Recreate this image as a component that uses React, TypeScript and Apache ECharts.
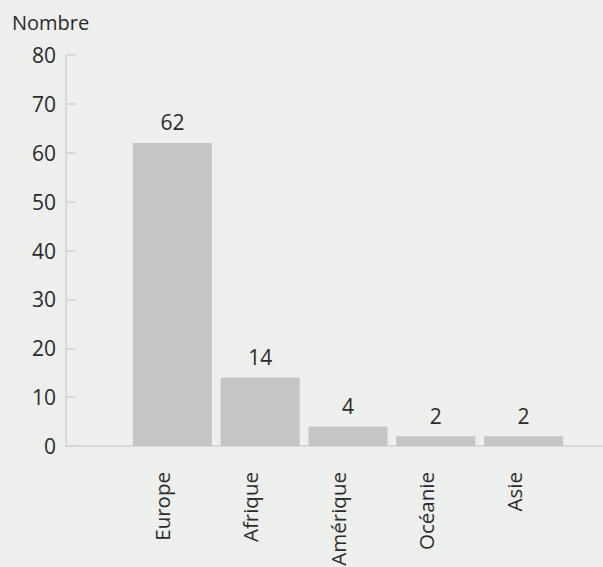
import React, { useEffect, useRef } from "react";
import * as echarts from "echarts";

const categories = ["Europe", "Afrique", "Amérique", "Océanie", "Asie"];
const values = [62, 14, 4, 2, 2];
const yMin = 0;
const yMax = 80;
const yInterval = 10;
const yName = "Nombre";

const FONT = "'Open Sans', 'Noto Sans', sans-serif";
const TEXT = "#2b2b2b";
const AXIS = "#cfd3cf";

export default function App() {
  const ref = useRef<HTMLDivElement>(null);
  useEffect(() => {
    document.body.style.margin = "0";
    const chart = echarts.init(ref.current!, null, { renderer: "svg" });
    chart.setOption({
      animation: false,
      backgroundColor: "#edefed",
      textStyle: { fontFamily: FONT },
      title: {
        text: yName,
        left: 7,
        top: 7,
        textStyle: { fontFamily: FONT, fontSize: 20, fontWeight: "normal", color: TEXT },
      },
      grid: [
        { left: 66, right: 0, top: 55, bottom: 121, outerBoundsMode: "none", containLabel: false },
        { left: 128.5, width: 439, top: 55, bottom: 121, outerBoundsMode: "none", containLabel: false },
      ],
      xAxis: [
        {
          gridIndex: 0,
          type: "value",
          min: 0,
          max: 1,
          axisLine: { show: true, lineStyle: { color: AXIS, width: 1.5 } },
          axisTick: { show: false },
          axisLabel: { show: false },
          splitLine: { show: false },
        },
        {
          gridIndex: 1,
          type: "category",
          data: categories,
          axisLine: { show: false },
          axisTick: { show: false },
          axisLabel: {
            rotate: 90,
            margin: 26,
            fontSize: 20.5,
            color: TEXT,
            fontFamily: FONT,
            verticalAlign: "bottom",
            lineHeight: 20,
          },
        },
      ],
      yAxis: [
        {
          gridIndex: 0,
          type: "value",
          min: yMin,
          max: yMax,
          interval: yInterval,
          axisLine: { show: true, lineStyle: { color: AXIS, width: 1.5 } },
          axisTick: { show: true, inside: true, length: 10, lineStyle: { color: AXIS, width: 1.5 } },
          axisLabel: { margin: 10, fontSize: 21, color: TEXT, fontFamily: FONT },
          splitLine: { show: false },
        },
        {
          gridIndex: 1,
          type: "value",
          min: yMin,
          max: yMax,
          interval: yInterval,
          show: false,
        },
      ],
      series: [
        {
          type: "bar",
          xAxisIndex: 1,
          yAxisIndex: 1,
          data: values,
          barCategoryGap: "10%",
          itemStyle: { color: "#c3c6c4" },
          label: {
            show: true,
            position: "top",
            distance: 10,
            fontSize: 21,
            color: TEXT,
            fontFamily: FONT,
          },
        },
      ],
    });
    return () => chart.dispose();
  }, []);
  return (
    <div
      ref={ref}
      style={{ position: "absolute", left: 0, top: 0, width: 603, height: 567 }}
    />
  );
}
